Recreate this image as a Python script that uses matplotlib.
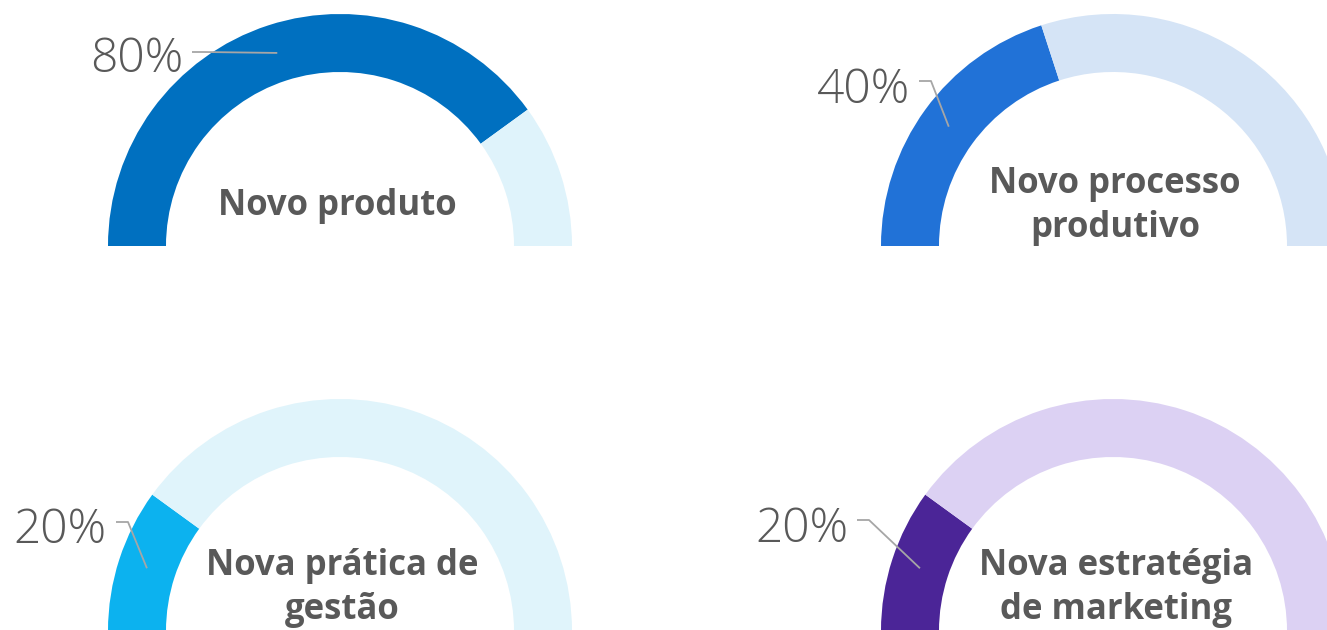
import numpy as np
import matplotlib.pyplot as plt

plt.rcParams['font.family'] = ['Open Sans', 'DejaVu Sans']

# gauge data
titles = ['Novo produto', 'Novo processo\nprodutivo',
          'Nova prática de\ngestão', 'Nova estratégia\nde marketing']
values = [80, 40, 20, 20]
fill_colors = ['#0070C0', '#2172D7', '#0CB2EF', '#4B2597']
track_colors = ['#DFF3FB', '#D5E4F6', '#E0F4FB', '#DCD1F3']

# layout (pixel coordinates, y pointing up)
W, H = 1327, 630
centers = [(340, 384), (1113, 384), (340, -1), (1113, -1)]
r_out, ring = 232, 58
title_pos = [(337, 424), (1115, 424), (342, 42), (1116, 42)]
pct_pos = [(183, 558), (910, 527), (107, 87), (848, 88)]   # right edge, baseline
leader_y = [578, 549, 108, 110]

fig = plt.figure(figsize=(W / 100, H / 100), dpi=100)
ax = fig.add_axes([0, 0, 1, 1])

for i in range(4):
    v = values[i]
    cx, cy = centers[i]
    wedges, _ = ax.pie([v, 100 - v, 100], colors=[fill_colors[i], track_colors[i], 'none'],
                       startangle=180, counterclock=False, radius=r_out, center=(cx, cy),
                       frame=True, wedgeprops=dict(width=ring, linewidth=0))

    ax.text(*title_pos[i], titles[i], ha='center', va='center', fontsize=25,
            fontweight='bold', color='#595959', linespacing=1.32)

    # value label with a leader line to the middle of the filled arc
    tx, ty = pct_pos[i]
    ax.text(tx, ty, f'{v}%', ha='right', va='baseline', fontsize=34.5,
            fontweight='light', color='#595959')
    mid = np.deg2rad(180 - v * 0.9)
    r_mid = r_out - ring / 2
    px, py = cx + r_mid * np.cos(mid), cy + r_mid * np.sin(mid)
    ly = leader_y[i]
    ax.plot([tx + 9, tx + 21, px], [ly, ly, py], color='#A6A6A6', lw=1.3,
            solid_capstyle='butt', zorder=5)

ax.set_xlim(0, W)
ax.set_ylim(0, H)
ax.set_aspect('equal')
ax.axis('off')

fig.savefig('out.png', dpi=100, facecolor='white')
